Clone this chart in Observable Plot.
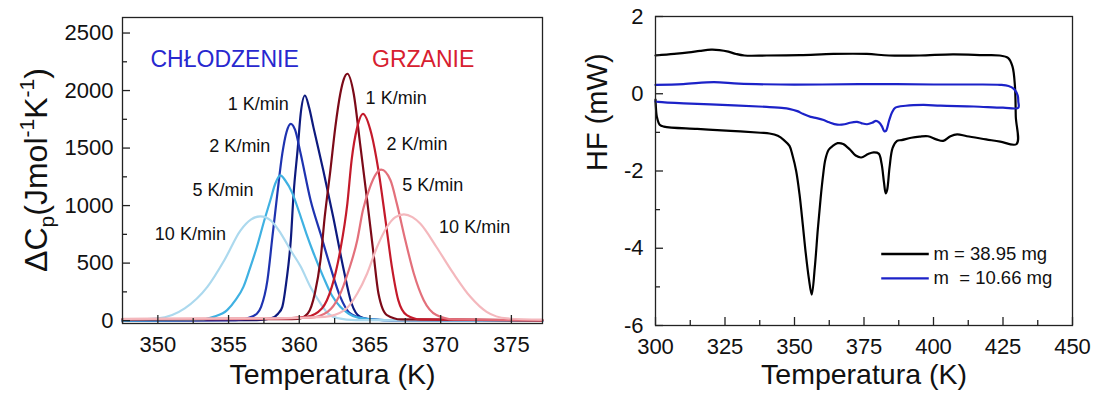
<!DOCTYPE html>
<html><head><meta charset="utf-8">
<script src="https://cdn.jsdelivr.net/npm/d3@7"></script>
<script src="https://cdn.jsdelivr.net/npm/@observablehq/plot@0.6"></script>
<style>
body{margin:0;background:#fff;font-family:"Liberation Sans",Arial,sans-serif;}
#wrap{display:flex;width:1097px;height:401px;overflow:hidden;}
svg{overflow:visible;}
</style></head><body><div id="wrap"></div>
<script>
// ---------- Left panel: ΔCp peaks ----------
const rates = ["1 K/min", "2 K/min", "5 K/min", "10 K/min"];

const cool1T = [347.5, 357.0, 358.0, 358.5, 358.8, 359.1, 359.4, 359.6, 359.9, 360.1, 360.4, 360.7, 361.0, 361.7, 362.4, 363.1, 363.7, 364.3, 365.0, 366.5, 377.2];
const cool1V = [0, 5, 19, 60, 120, 352, 699, 1104, 1508, 1798, 1957, 1850, 1682, 1306, 901, 467, 149, 33, 10, 5, 0];
const cool2T = [347.5, 355.5, 356.3, 357.0, 357.3, 357.75, 358.1, 358.45, 358.8, 359.1, 359.4, 359.7, 360.1, 360.8, 361.5, 362.2, 362.9, 363.6, 364.5, 366.0, 377.2];
const cool2V = [0, 5, 19, 60, 120, 352, 727, 1104, 1451, 1640, 1711, 1660, 1450, 1046, 757, 467, 207, 62, 20, 5, 0];
const cool5T = [347.5, 353.0, 354.0, 354.9, 355.5, 356.05, 356.5, 357.0, 357.5, 357.95, 358.3, 358.66, 359.0, 359.5, 360.0, 360.5, 361.0, 361.7, 362.3, 362.9, 363.5, 364.1, 366.0, 377.2];
const cool5V = [0, 8, 35, 91, 180, 293, 450, 640, 860, 1044, 1190, 1263, 1220, 1110, 940, 757, 590, 380, 220, 120, 60, 28, 5, 0];
const cool10T = [347.5, 350.0, 351.9, 353.5, 354.7, 355.85, 356.6, 357.25, 358.0, 358.7, 359.4, 360.1, 360.8, 361.5, 362.0, 362.7, 364.0, 377.2];
const cool10V = [5, 19, 106, 293, 525, 785, 880, 907, 870, 757, 610, 470, 290, 150, 65, 22, 5, 0];

const heat1T = [347.5, 358.0, 359.9, 360.6, 361.1, 361.5, 361.8, 362.2, 362.55, 362.9, 363.15, 363.4, 363.85, 364.3, 364.8, 365.25, 365.6, 366.2, 367.2, 377.2];
const heat1V = [10, 12, 15, 62, 236, 525, 901, 1306, 1682, 1972, 2100, 2146, 1972, 1538, 1046, 583, 236, 48, 10, 3];
const heat2T = [347.5, 358.0, 360.5, 361.6, 362.3, 362.9, 363.4, 363.7, 364.1, 364.5, 365.1, 365.6, 366.1, 366.55, 367.0, 367.6, 368.6, 377.2];
const heat2V = [12, 15, 33, 106, 293, 612, 1017, 1393, 1682, 1798, 1625, 1306, 872, 467, 178, 48, 10, 3];
const heat5T = [347.5, 358.0, 360.8, 362.0, 362.8, 363.5, 364.1, 364.5, 365.0, 365.4, 365.8, 366.45, 366.9, 367.5, 368.1, 368.8, 369.7, 370.9, 377.2];
const heat5V = [14, 18, 25, 76, 207, 438, 699, 959, 1161, 1270, 1312, 1220, 1017, 699, 410, 178, 48, 10, 3];
const heat10T = [347.5, 358.0, 361.8, 363.2, 364.1, 364.8, 365.5, 366.2, 366.8, 367.4, 368.0, 368.55, 369.7, 370.9, 372.1, 373.25, 374.7, 377.2];
const heat10V = [16, 20, 33, 91, 236, 410, 640, 814, 900, 924, 900, 844, 640, 410, 207, 76, 19, 8];

const coolColors = ["#0d1a7e", "#1e33b0", "#3fb1e2", "#acd9ee"];
const heatColors = ["#7c0a18", "#c41a2b", "#e3707b", "#f4b8bd"];

// label anchors (data coordinates)
const coolLabelT = [357.1, 355.8, 354.6, 352.3];
const coolLabelV = [1879, 1515, 1133, 748];
const heatLabelT = [366.85, 368.33, 369.44, 372.4];
const heatLabelV = [1937, 1532, 1176, 814];
const modeLabels = ["CHŁODZENIE", "GRZANIE"];
const modeLabelT = [354.72, 368.76];
const modeLabelV = [2270, 2270];
const modeColors = ["#2828cf", "#d7202f"];

const leftXTicks = [350, 355, 360, 365, 370, 375];
const leftXMinor = [347.5, 352.5, 357.5, 362.5, 367.5, 372.5];
const leftYTicks = [0, 500, 1000, 1500, 2000, 2500];
const leftYMinor = [250, 750, 1250, 1750, 2250];

// ---------- Right panel: HF loops ----------
const hf1T = [300, 306.7, 312, 316, 320, 323, 326.2, 329, 332, 340, 352, 364, 376, 384, 395, 407, 418, 423.8, 426.8, 428.4, 429.3, 429.6, 429.9,
  424, 418.9, 412, 408.5, 406.1, 403.5, 401, 398, 395, 392, 388.5, 386.9, 385.3, 384.2, 383.3, 382.8, 382.2, 381.3, 380.3, 378.5, 376.5, 374.0, 372, 370, 367.5, 365.5, 363.6, 362.3, 361.1, 360.3, 359.4, 358.4, 357.3, 356.2, 355.2, 354, 353, 351.8, 350.6, 349.3, 348.2, 346.2, 344, 341, 337.8, 327, 315, 303, 301.5, 300.5, 300.1, 300];
const hf1V = [0.99, 1.03, 1.07, 1.11, 1.14, 1.13, 1.09, 1.03, 0.99, 0.99, 1.0, 1.03, 1.03, 0.99, 0.99, 1.02, 1.0, 0.99, 0.93, 0.71, 0.19, -0.59, -1.3,
  -1.24, -1.18, -1.1, -1.05, -1.1, -1.22, -1.18, -1.1, -1.11, -1.14, -1.2, -1.22, -1.4, -1.9, -2.5, -2.58, -2.3, -1.8, -1.55, -1.52, -1.56, -1.65, -1.6, -1.45, -1.3, -1.28, -1.36, -1.45, -1.7, -2.1, -2.7, -3.5, -4.5, -5.2, -4.8, -4.1, -3.4, -2.6, -2.0, -1.6, -1.35, -1.2, -1.09, -1.03, -1.01, -0.96, -0.91, -0.85, -0.8, -0.6, -0.3, -0.15];
const hf2T = [300, 310, 321, 330, 345, 360, 380, 400, 415, 424, 427, 429, 430.3, 430.5, 430.5,
  425, 414.5, 402.5, 396.5, 390, 386.3, 385.1, 384, 382.9, 382.3, 381.5, 380.4, 379.3, 378, 376.1, 374, 372.5, 370, 368, 365.4, 362.5, 360.5, 358, 355.8, 353, 351, 348, 346.2, 340, 328.2, 310.2, 301, 300];
const hf2V = [0.23, 0.25, 0.3, 0.26, 0.24, 0.24, 0.25, 0.24, 0.24, 0.23, 0.2, 0.12, -0.05, -0.2, -0.36,
  -0.36, -0.33, -0.31, -0.29, -0.31, -0.36, -0.48, -0.7, -0.96, -0.97, -0.85, -0.74, -0.7, -0.75, -0.79, -0.76, -0.73, -0.75, -0.79, -0.8, -0.74, -0.68, -0.63, -0.6, -0.52, -0.45, -0.39, -0.37, -0.34, -0.30, -0.25, -0.21, -0.2];
const hfNames = ["m = 38.95 mg", "m  = 10.66 mg"];
const hfColors = ["#000000", "#1c22c8"];
const legendT1 = [381.2, 381.2], legendT2 = [398.3, 398.3], legendV = [-4.15, -4.78], legendTextT = [400, 400];

const rightXTicks = [300, 325, 350, 375, 400, 425, 450];
const rightXMinor = [312.5, 337.5, 362.5, 387.5, 412.5, 437.5];
const rightYTicks = [-6, -4, -2, 0, 2];
const rightYMinor = [-5, -3, -1, 1];

// ---------- helpers ----------
const FONT = "Liberation Sans, Arial, sans-serif";
const TICKFS = 22;
const fmt = d => String(d);
function series(T, V, name, color) { return T.map((t, i) => ({t, v: V[i], name, color})); }
function tickMarks(xMaj, xMin, yMaj, yMin, W, H) {
  const s = "#222";
  return [
    Plot.tickX(xMaj, {x: d => d, stroke: s, strokeWidth: 1.3, insetTop: H - 8}),
    Plot.tickX(xMin, {x: d => d, stroke: s, strokeWidth: 1.3, insetTop: H - 5}),
    Plot.tickY(yMaj, {y: d => d, stroke: s, strokeWidth: 1.3, insetRight: W - 8}),
    Plot.tickY(yMin, {y: d => d, stroke: s, strokeWidth: 1.3, insetRight: W - 5})
  ];
}

// ---------- left chart ----------
const L = {width: 570, height: 401, ml: 122, mr: 28, mt: 17, mb: 78};
const LW = L.width - L.ml - L.mr, LH = L.height - L.mt - L.mb;
const coolT = [cool1T, cool2T, cool5T, cool10T], coolV = [cool1V, cool2V, cool5V, cool10V];
const heatT = [heat1T, heat2T, heat5T, heat10T], heatV = [heat1V, heat2V, heat5V, heat10V];
const leftLines = [];
coolT.forEach((T, i) => leftLines.push(series(T, coolV[i], "c" + rates[i], coolColors[i])));
heatT.forEach((T, i) => leftLines.push(series(T, heatV[i], "h" + rates[i], heatColors[i])));

const left = Plot.plot({
  width: L.width, height: L.height,
  marginLeft: L.ml, marginRight: L.mr, marginTop: L.mt, marginBottom: L.mb,
  style: {fontFamily: FONT, background: "#fff", color: "#111"},
  x: {domain: [347.5, 377.2]},
  y: {domain: [-25, 2635]},
  marks: [
    ...leftLines.map(d => Plot.line(d, {x: "t", y: "v", stroke: d[0].color, strokeWidth: 2.2, curve: "monotone-x"})),
    Plot.text(rates, {x: (d, i) => coolLabelT[i], y: (d, i) => coolLabelV[i], text: d => d, fontSize: 18, fill: "#111"}),
    Plot.text(rates, {x: (d, i) => heatLabelT[i], y: (d, i) => heatLabelV[i], text: d => d, fontSize: 18, fill: "#111"}),
    Plot.text(modeLabels, {x: (d, i) => modeLabelT[i], y: (d, i) => modeLabelV[i], text: d => d, fill: (d, i) => modeColors[i], fontSize: 23}),
    ...tickMarks(leftXTicks, leftXMinor, leftYTicks, leftYMinor, LW, LH),
    Plot.axisX(leftXTicks, {tickSize: 0, tickPadding: 13, fontSize: TICKFS, label: null, fill: "#111", tickFormat: fmt}),
    Plot.axisY(leftYTicks, {tickSize: 0, tickPadding: 9, fontSize: TICKFS, label: null, fill: "#111", tickFormat: fmt}),
    Plot.text(["Temperatura (K)"], {frameAnchor: "bottom", dy: 60, fontSize: 28.5, fill: "#111"}),
    Plot.frame({stroke: "#222", strokeWidth: 1.3})
  ]
});
// y title with sub/superscripts
{
  const t = d3.select(left).append("text")
    .attr("transform", `translate(47,${L.mt + LH / 2}) rotate(-90)`)
    .attr("text-anchor", "middle").attr("font-size", 32).attr("fill", "#111")
    .attr("font-family", FONT);
  t.append("tspan").text("ΔC");
  t.append("tspan").attr("font-size", 21).attr("dy", 7).text("p");
  t.append("tspan").attr("dy", -7).text("(Jmol");
  t.append("tspan").attr("font-size", 21).attr("dy", -13).text("-1");
  t.append("tspan").attr("dy", 13).text("K");
  t.append("tspan").attr("font-size", 21).attr("dy", -13).text("-1");
  t.append("tspan").attr("dy", 13).text(")");
}

// ---------- right chart ----------
const R = {width: 527, height: 401, ml: 85, mr: 25, mt: 16, mb: 76};
const RW = R.width - R.ml - R.mr, RH = R.height - R.mt - R.mb;
const hfT = [hf1T, hf2T], hfV = [hf1V, hf2V];
const right = Plot.plot({
  width: R.width, height: R.height,
  marginLeft: R.ml, marginRight: R.mr, marginTop: R.mt, marginBottom: R.mb,
  style: {fontFamily: FONT, background: "#fff", color: "#111"},
  x: {domain: [300, 450]},
  y: {domain: [-6, 2]},
  marks: [
    ...hfT.map((T, i) => Plot.line(series(T, hfV[i], hfNames[i], hfColors[i]), {x: "t", y: "v", stroke: hfColors[i], strokeWidth: 2.2, curve: "catmull-rom"})),
    Plot.link(hfNames, {x1: (d, i) => legendT1[i], x2: (d, i) => legendT2[i], y1: (d, i) => legendV[i], y2: (d, i) => legendV[i], stroke: (d, i) => hfColors[i], strokeWidth: 2.4}),
    Plot.text(hfNames, {x: (d, i) => legendTextT[i], y: (d, i) => legendV[i], text: d => d, textAnchor: "start", fontSize: 18.5, fill: "#111"}),
    ...tickMarks(rightXTicks, rightXMinor, rightYTicks, rightYMinor, RW, RH),
    Plot.axisX(rightXTicks, {tickSize: 0, tickPadding: 13, fontSize: TICKFS, label: null, fill: "#111", tickFormat: fmt}),
    Plot.axisY(rightYTicks, {tickSize: 0, tickPadding: 12, fontSize: TICKFS, label: null, fill: "#111", tickFormat: fmt}),
    Plot.text(["Temperatura (K)"], {frameAnchor: "bottom", dy: 58, fontSize: 28.5, fill: "#111"}),
    Plot.text(["HF (mW)"], {frameAnchor: "left", dx: -58, rotate: -90, fontSize: 29, fill: "#111"}),
    Plot.frame({stroke: "#222", strokeWidth: 1.3})
  ]
});

const wrap = document.getElementById("wrap");
wrap.appendChild(left);
wrap.appendChild(right);
</script>
</body></html>
